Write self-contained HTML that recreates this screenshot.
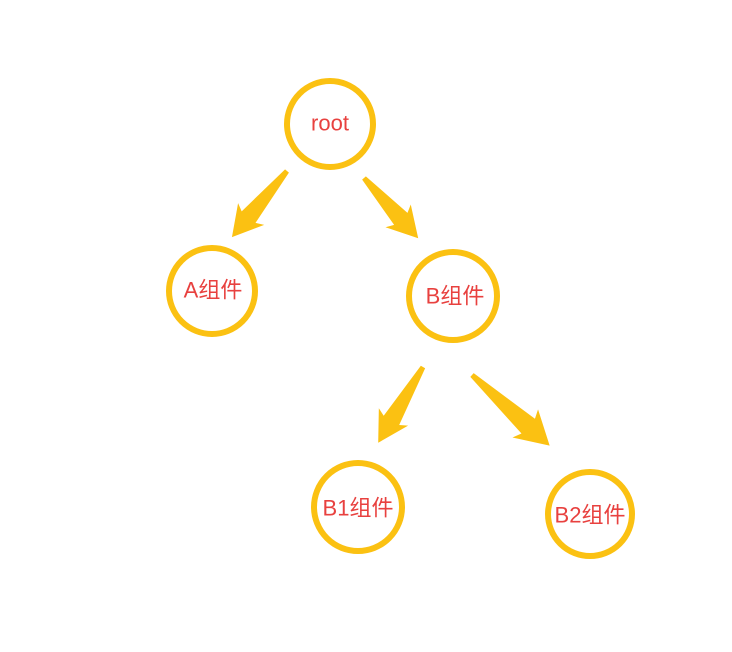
<!DOCTYPE html>
<html><head><meta charset="utf-8"><style>
html,body{margin:0;padding:0;background:#fff;}
svg{display:block}
text{font-family:"Liberation Sans","Noto Sans CJK SC",sans-serif;fill:#e8413f;font-size:22px;text-anchor:middle;dominant-baseline:central}
</style></head><body>
<svg width="732" height="652" viewBox="0 0 732 652">
<g fill="none" stroke="#fbc112" stroke-width="6">
<circle cx="330" cy="124" r="43"/>
<circle cx="212" cy="291" r="43"/>
<circle cx="453" cy="296" r="44"/>
<circle cx="358" cy="507" r="44"/>
<circle cx="590" cy="514" r="42"/>
</g>
<g fill="#fbc112">
<g transform="translate(287,171) rotate(129.8)"><polygon points="0,-2.5 60,-9 56,-17 86,0 56,17 60,9 0,2.5"/></g>
<g transform="translate(364,178) rotate(48)"><polygon points="0,-2.5 55,-9 51,-17 81,0 51,17 55,9 0,2.5"/></g>
<g transform="translate(423,367) rotate(120.6)"><polygon points="0,-2.5 62,-9 58,-17 88,0 58,17 62,9 0,2.5"/></g>
<g transform="translate(472,375) rotate(42.3)"><polygon points="0,-2.5 76,-10 72,-19 105,0 72,19 76,10 0,2.5"/></g>
</g>
<text x="330" y="123">root</text>
<text x="213" y="290">A组件</text>
<text x="455" y="296">B组件</text>
<text x="358" y="508">B1组件</text>
<text x="590" y="515">B2组件</text>
</svg>
</body></html>
